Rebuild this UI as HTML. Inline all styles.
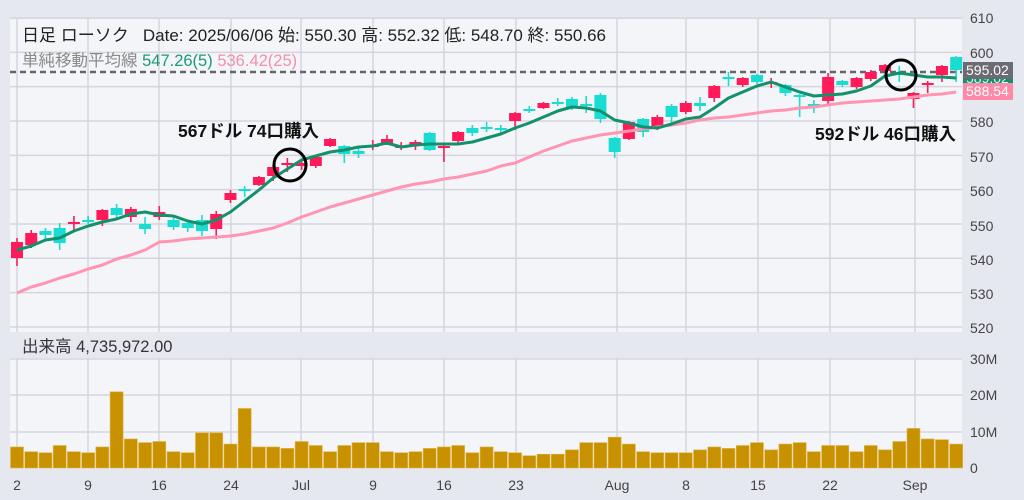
<!DOCTYPE html>
<html><head><meta charset="utf-8">
<style>
html,body{margin:0;padding:0;background:#e6e8f0;}
body{width:1024px;height:500px;overflow:hidden;position:relative;font-family:"Liberation Sans","Noto Sans CJK JP",sans-serif;}
svg{position:absolute;left:0;top:0;}
</style></head><body>
<svg id="s" width="1024" height="500" xmlns="http://www.w3.org/2000/svg">
<rect x="10" y="19" width="952" height="313" fill="#f4f5f8"/>
<rect x="10" y="358" width="952" height="110" fill="#f4f5f8"/>
<g id="grid" stroke="#d4d5df" stroke-width="1.5"></g>
<line x1="10" y1="72" x2="962" y2="72" stroke="#666" stroke-width="2.5" stroke-dasharray="6,4"/>
<g id="vol"></g>
<g id="cdl"></g>
<polyline id="ma25" fill="none" stroke="#ff95b0" stroke-width="3" stroke-linejoin="round"/>
<polyline id="ma5" fill="none" stroke="#13906c" stroke-width="3" stroke-linejoin="round"/>
<circle cx="290" cy="165" r="16" fill="none" stroke="#000" stroke-width="3"/>
<circle cx="901" cy="75" r="15" fill="none" stroke="#000" stroke-width="3"/>
<g fill="#222">
<text x="22" y="41" font-size="17">日足 ローソク&#160;&#160;&#160;Date: 2025/06/06 始: 550.30 高: 552.32 低: 548.70 終: 550.66</text>
<text x="22" y="66" font-size="16.5"><tspan fill="#8a8a8a">単純移動平均線</tspan> <tspan fill="#1a9a7a">547.26(5)</tspan> <tspan fill="#f58fa8">536.42(25)</tspan></text>
<text x="22" y="352" font-size="16.5" fill="#333">出来高 4,735,972.00</text>
</g>
<g font-size="17.5" font-weight="bold" fill="#111">
<text x="178" y="137">567ドル 74口購入</text>
<text x="815" y="140">592ドル 46口購入</text>
</g>
<g font-size="14" fill="#444">
<text x="970" y="23">610</text><text x="970" y="58">600</text>
<text x="970" y="127">580</text><text x="970" y="162">570</text><text x="970" y="196">560</text>
<text x="970" y="231">550</text><text x="970" y="265">540</text><text x="970" y="299">530</text><text x="970" y="333">520</text>
<text x="970" y="364">30M</text><text x="970" y="400">20M</text><text x="970" y="437">10M</text><text x="970" y="473">0</text>
</g>
<rect x="963" y="73" width="50" height="11" fill="#13906c"/>
<text x="966" y="83" font-size="14" fill="#cfe">589.02</text>
<rect x="963" y="62" width="50" height="17" fill="#6b6b73"/>
<text x="966" y="75" font-size="14" fill="#fff">595.02</text>
<rect x="963" y="83" width="50" height="17" fill="#ff8aa8"/>
<text x="966" y="96" font-size="14" fill="#fff">588.54</text>
<g font-size="14" fill="#444" text-anchor="middle">
<text x="17" y="490">2</text><text x="88" y="490">9</text><text x="159" y="490">16</text><text x="231" y="490">24</text>
<text x="301" y="490">Jul</text><text x="373" y="490">9</text><text x="444" y="490">16</text><text x="516" y="490">23</text>
<text x="617" y="490">Aug</text><text x="686" y="490">8</text><text x="758" y="490">15</text><text x="830" y="490">22</text><text x="915" y="490">Sep</text>
</g>
</svg>
<script>
var NS="http://www.w3.org/2000/svg";
function el(p,t,a){var e=document.createElementNS(NS,t);for(var k in a)e.setAttribute(k,a[k]);document.getElementById(p).appendChild(e);return e;}
var gx=[17,88,159,231,301,373,444,516,617,686,758,830,915];
gx.forEach(function(x){el("grid","line",{x1:x,y1:19,x2:x,y2:332});el("grid","line",{x1:x,y1:358,x2:x,y2:468});});
for(var i=0;i<10;i++){var y=18+i*34.33;el("grid","line",{x1:10,y1:y,x2:962,y2:y});}
[359,395,432].forEach(function(y){el("grid","line",{x1:10,y1:y,x2:962,y2:y});});
var X=function(i){return 17+i*14.23;};
var vol=[5.8,4.5,4.2,6.2,4.5,4.2,5.8,21,8,7,7.3,4.5,4.2,9.7,9.7,6.6,16.4,5.8,5.8,5.4,7.3,6.2,4.5,6.2,7,7,4.5,4.2,4.5,5.4,5.8,6.2,4.2,5.8,4.5,4.2,3.4,3.8,3.8,5,7,7,8.5,6.6,4.5,4.2,4.2,4.2,5,5.8,5.4,6.2,7,5,6.6,7,4.5,6.2,6.2,4.5,6.2,5,7.3,10.9,8,7.8,6.6];
vol.forEach(function(v,i){var h=v*3.63;el("vol","rect",{x:X(i)-6.5,y:468-h,width:13,height:h,fill:"#c89100",stroke:"#e0b54a","stroke-width":0.6});});
var R="#ff1a5a",C="#1adcd2";
var c=[[R,242,258,238,266],[R,233,245,230,248],[C,231,235,228,240],[C,228,243,223,250],[R,222,224,216,230],[C,220,222,216,224],[R,210,220,209,226],[C,208,215,204,220],[R,209,217,207,222],[C,224,229,217,234],[R,212,217,206,220],[C,220,227,215,230],[C,223,228,220,232],[C,220,231,215,236],[R,214,229,211,239],[R,193,200,190,203],[C,189,191,186,197],[R,177,185,176,186],[R,167,176,165,181],[R,163,164,158,172],[R,163,166,161,170],[R,157,166,156,168],[R,139,146,138,147],[C,146,154,145,163],[C,151,154,148,158],[R,145,147,140,150],[R,139,143,135,145],[R,146,147,142,150],[R,142,145,140,150],[C,133,150,132,151],[R,146,148,145,162],[R,132,141,131,143],[C,128,133,125,136],[C,127,128,122,132],[C,128,129,125,134],[R,113,121,112,130],[C,109,110,106,113],[R,103,108,102,109],[C,102,103,98,106],[C,99,107,97,110],[C,104,106,96,113],[C,95,119,93,123],[C,138,152,137,158],[R,122,139,121,140],[C,119,132,118,137],[R,117,126,115,130],[C,106,117,104,125],[R,103,112,101,114],[C,103,106,97,111],[R,86,98,85,102],[C,77,79,72,86],[R,78,85,77,87],[C,75,82,74,84],[R,82,83,78,88],[C,85,93,84,96],[C,95,97,94,117],[C,104,106,100,113],[R,77,101,73,105],[C,81,85,80,87],[R,78,87,77,89],[R,72,79,70,81],[R,65,71,64,73],[C,73,74,66,82],[R,93,99,92,108],[R,83,84,81,93],[R,66,75,65,82],[C,57,70,56,82]];
c.forEach(function(d,i){var x=X(i);el("cdl","line",{x1:x,y1:d[3],x2:x,y2:d[4],stroke:d[0],"stroke-width":1.6});var h=Math.max(d[2]-d[1],2);el("cdl","rect",{x:x-6,y:d[1],width:12,height:h,fill:d[0]});});
var m5=[250,246,240,238,231,226,222,219,214,212,215,216,221,224,220,212,201,190,178,169,160,156,152,150,147,146,143,147,145,144,144,144,142,138,134,128,123,117,111,107,108,111,120,123,127,128,124,119,117,108,98,92,86,82,87,92,96,95,94,91,86,76,73,75,77,77,78];
var m25=[293,287,283,278,274,269,265,259,255,250,242,241,239,238,237,236,234,231,228,223,217,212,207,203,199,195,191,187,184,182,179,177,174,171,166,163,157,151,146,141,138,135,133,131,129,127,125,123,120,118,117,115,113,111,110,108,107,105,103,102,101,100,99,97,95,94,92];
document.getElementById("ma5").setAttribute("points",m5.map(function(y,i){return X(i)+","+y;}).join(" "));
document.getElementById("ma25").setAttribute("points",m25.map(function(y,i){return X(i)+","+y;}).join(" "));
</script>
</body></html>
